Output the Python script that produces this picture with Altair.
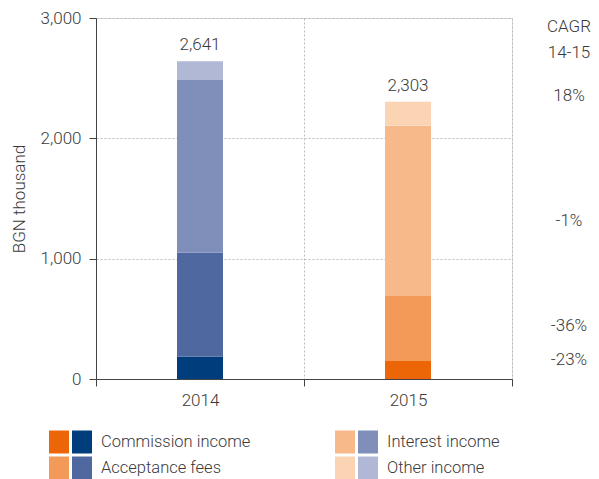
import altair as alt
import pandas as pd

years = ["2014", "2015"]
components = ["Commission income", "Acceptance fees", "Interest income", "Other income"]
values_2014 = [185, 864, 1436, 156]
values_2015 = [150, 540, 1415, 198]
totals = [2641, 2303]
blue_colors = ["#003D7C", "#4F69A0", "#7F8FBA", "#B0B8D6"]
orange_colors = ["#EC6608", "#F39A58", "#F7B98A", "#FBD4B4"]
cagr_labels = ["-23%", "-36%", "-1%", "18%"]
cagr_anchor = [160, 440, 1310, 2350]
cagr_header = ["CAGR", "14-15"]

FONT = "Roboto"
TXT = "#3a3a3a"
W, H = 416, 361

rows = []
for yi, (yr, vals, cols) in enumerate([(years[0], values_2014, blue_colors),
                                       (years[1], values_2015, orange_colors)]):
    for ci, (comp, v) in enumerate(zip(components, vals)):
        rows.append({"year": yr, "component": comp, "value": v, "order": ci,
                     "key": yr + "|" + comp})
bars_df = pd.DataFrame(rows)
color_domain = [y + "|" + c for y in years for c in components]
color_range = blue_colors + orange_colors

tot_df = pd.DataFrame({"year": years, "total": totals})
cagr_df = pd.DataFrame({"label": cagr_labels, "pos": cagr_anchor})

leg_rows = []
for i, comp in enumerate(components):
    col, row = i // 2, i % 2
    leg_rows.append({"label": comp, "orange": orange_colors[i], "blue": blue_colors[i],
                     "ox": -37 + col * 286, "bx": -14 + col * 286,
                     "tx": 5 + col * 286, "ly": 424 + row * 26})
leg_df = pd.DataFrame(leg_rows)

x_enc = alt.X("year:N", sort=years,
              scale=alt.Scale(paddingInner=0, paddingOuter=0),
              axis=alt.Axis(title=None, labelAngle=0, tickBand="extent", grid=True,
                            gridDash=[2, 2], gridColor="#bbbbbb", domainColor="#444444",
                            tickColor="#444444", tickSize=7, labelFontSize=17,
                            labelColor=TXT, labelFont=FONT, labelPadding=6,
                            labelFontWeight=300))

bars = alt.Chart(bars_df).mark_bar(size=46).encode(
    x=x_enc,
    y=alt.Y("value:Q", stack="zero",
            scale=alt.Scale(domain=[0, 3000], nice=False),
            axis=alt.Axis(values=[0, 1000, 2000, 3000],
                          labelExpr="format(datum.value, ',')", title="BGN thousand",
                          grid=True, gridDash=[2, 2], gridColor="#bbbbbb",
                          domainColor="#444444", tickColor="#444444", tickSize=7,
                          labelFontSize=17, labelColor=TXT, labelFont=FONT,
                          labelFontWeight=300, labelPadding=8,
                          titleFontSize=17, titleFont=FONT, titleFontWeight=300,
                          titleColor=TXT, titlePadding=12)),
    color=alt.Color("key:N", scale=alt.Scale(domain=color_domain, range=color_range),
                    legend=None),
    order=alt.Order("order:Q", sort="ascending"),
)

tot = alt.Chart(tot_df).mark_text(baseline="bottom", dy=-7, fontSize=17, font=FONT,
                                  fontWeight=300, color=TXT).encode(
    x=alt.X("year:N", sort=years),
    y=alt.Y("total:Q"),
    text=alt.Text("total:Q", format=","),
)

cagr = alt.Chart(cagr_df).mark_text(fontSize=17, font=FONT, fontWeight=300,
                                    color=TXT).encode(
    x=alt.value(W + 57),
    y=alt.Y("pos:Q"),
    text="label:N",
)

hdr1 = alt.Chart(pd.DataFrame({"t": [cagr_header[0]]})).mark_text(
    fontSize=17, font=FONT, fontWeight=300, color=TXT).encode(
    x=alt.value(W + 57), y=alt.value(9), text="t:N")
hdr2 = alt.Chart(pd.DataFrame({"t": [cagr_header[1]]})).mark_text(
    fontSize=17, font=FONT, fontWeight=300, color=TXT).encode(
    x=alt.value(W + 57), y=alt.value(35), text="t:N")

swatch_shape = "M-1,-1.15L1,-1.15L1,1.15L-1,1.15Z"
sw_o = alt.Chart(leg_df).mark_point(shape=swatch_shape, size=400, filled=True,
                                    opacity=1, strokeWidth=0).encode(
    x=alt.X("ox:Q", scale=None), y=alt.Y("ly:Q", scale=None),
    color=alt.Color("orange:N", scale=None))
sw_b = alt.Chart(leg_df).mark_point(shape=swatch_shape, size=400, filled=True,
                                    opacity=1, strokeWidth=0).encode(
    x=alt.X("bx:Q", scale=None), y=alt.Y("ly:Q", scale=None),
    color=alt.Color("blue:N", scale=None))
leg_t = alt.Chart(leg_df).mark_text(align="left", baseline="middle", fontSize=16.5,
                                    font=FONT, fontWeight=300, color=TXT).encode(
    x=alt.X("tx:Q", scale=None), y=alt.Y("ly:Q", scale=None), text="label:N")

chart = alt.layer(bars, tot, cagr, hdr1, hdr2, sw_o, sw_b, leg_t).properties(
    width=W, height=H,
    autosize=alt.AutoSizeParams(type="none"),
    padding={"left": 88, "top": 10, "right": 79, "bottom": 100},
).configure_view(stroke=None).configure(background="white")

chart.save("out.html", embed_options={"renderer": "svg", "actions": False})
